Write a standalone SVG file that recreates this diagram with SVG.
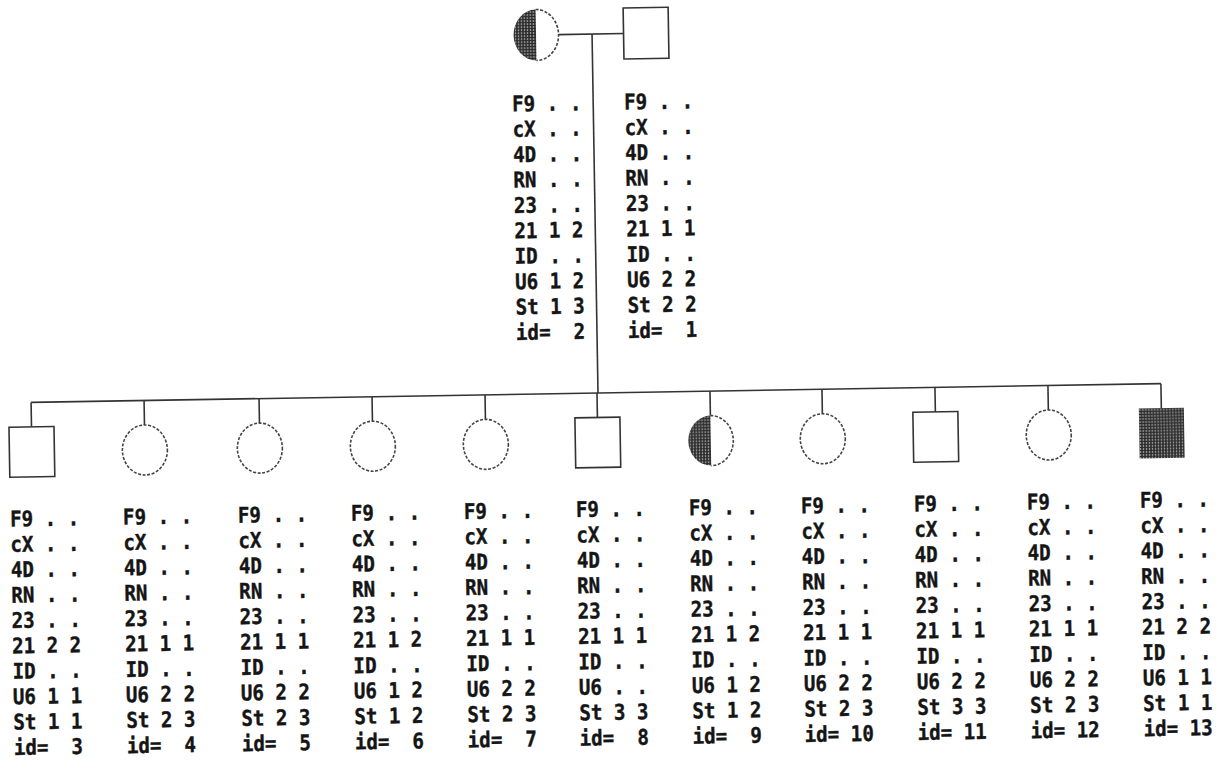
<svg xmlns="http://www.w3.org/2000/svg" width="1216" height="763" viewBox="0 0 1216 763">
<defs>
<pattern id="shade" width="3" height="3" patternUnits="userSpaceOnUse"><rect width="3" height="3" fill="#9a9a9a"/><rect width="2" height="3" fill="#3c3c3c"/><rect width="3" height="1" fill="#2a2a2a"/></pattern>
</defs>
<style>
.ln{stroke:#333;stroke-width:1.6;fill:none}
.sq{fill:#fff;stroke:#333;stroke-width:1.6}
.ci{fill:#fff;stroke:#444;stroke-width:1.6;stroke-dasharray:3 1.6}
.arc{fill:none;stroke:#444;stroke-width:1.6;stroke-dasharray:3 1.6}
.sh{fill:url(#shade)}
.t{font-family:"DejaVu Sans Mono","Liberation Mono",monospace;font-weight:bold;font-size:21.5px;fill:#151515;stroke:#151515;stroke-width:0.4;white-space:pre}
</style>
<rect width="1216" height="763" fill="#fff"/>
<g transform="rotate(-0.95 597 393)">
<g id="connectors" class="ln">
<line x1="564.5" y1="34" x2="629.5" y2="34"/>
<line x1="598" y1="34" x2="598" y2="393"/>
<line x1="31" y1="393" x2="1161" y2="393"/>
<line x1="31" y1="393" x2="31" y2="417.5"/>
<line x1="144" y1="393" x2="144" y2="417.5"/>
<line x1="259" y1="393" x2="259" y2="417.5"/>
<line x1="372" y1="393" x2="372" y2="417.5"/>
<line x1="485" y1="393" x2="485" y2="417.5"/>
<line x1="597" y1="393" x2="597" y2="417.5"/>
<line x1="710" y1="393" x2="710" y2="417.5"/>
<line x1="822" y1="393" x2="822" y2="417.5"/>
<line x1="935" y1="393" x2="935" y2="417.5"/>
<line x1="1048" y1="393" x2="1048" y2="417.5"/>
<line x1="1161" y1="393" x2="1161" y2="417.5"/>
</g>
<g id="n2">
<path class="sh" d="M542,8.5 A22.5,25.5 0 0 0 542,59.5 Z"/>
<path class="arc" d="M542,8.5 A22.5,25.5 0 0 1 542,59.5"/>
<text class="t" xml:space="preserve" transform="translate(517 110) scale(0.89 1)"><tspan x="0" y="0">F9 . .</tspan><tspan x="0" y="25.4">cX . .</tspan><tspan x="0" y="50.8">4D . .</tspan><tspan x="0" y="76.2">RN . .</tspan><tspan x="0" y="101.6">23 . .</tspan><tspan x="0" y="127">21 1 2</tspan><tspan x="0" y="152.4">ID . .</tspan><tspan x="0" y="177.8">U6 1 2</tspan><tspan x="0" y="203.2">St 1 3</tspan><tspan x="0" y="228.6">id=  2</tspan></text>
</g>
<g id="n1">
<rect class="sq" x="629.5" y="8.5" width="45" height="51"/>
<text class="t" xml:space="preserve" transform="translate(629 110) scale(0.89 1)"><tspan x="0" y="0">F9 . .</tspan><tspan x="0" y="25.4">cX . .</tspan><tspan x="0" y="50.8">4D . .</tspan><tspan x="0" y="76.2">RN . .</tspan><tspan x="0" y="101.6">23 . .</tspan><tspan x="0" y="127">21 1 1</tspan><tspan x="0" y="152.4">ID . .</tspan><tspan x="0" y="177.8">U6 2 2</tspan><tspan x="0" y="203.2">St 2 2</tspan><tspan x="0" y="228.6">id=  1</tspan></text>
</g>
<g id="n3">
<rect class="sq" x="8.5" y="417.5" width="45" height="50"/>
<text class="t" xml:space="preserve" transform="translate(8 516.7) scale(0.89 1)"><tspan x="0" y="0">F9 . .</tspan><tspan x="0" y="25.4">cX . .</tspan><tspan x="0" y="50.8">4D . .</tspan><tspan x="0" y="76.2">RN . .</tspan><tspan x="0" y="101.6">23 . .</tspan><tspan x="0" y="127">21 2 2</tspan><tspan x="0" y="152.4">ID . .</tspan><tspan x="0" y="177.8">U6 1 1</tspan><tspan x="0" y="203.2">St 1 1</tspan><tspan x="0" y="228.6">id=  3</tspan></text>
</g>
<g id="n4">
<ellipse class="ci" cx="144" cy="442.5" rx="22.5" ry="25"/>
<text class="t" xml:space="preserve" transform="translate(121 516.7) scale(0.89 1)"><tspan x="0" y="0">F9 . .</tspan><tspan x="0" y="25.4">cX . .</tspan><tspan x="0" y="50.8">4D . .</tspan><tspan x="0" y="76.2">RN . .</tspan><tspan x="0" y="101.6">23 . .</tspan><tspan x="0" y="127">21 1 1</tspan><tspan x="0" y="152.4">ID . .</tspan><tspan x="0" y="177.8">U6 2 2</tspan><tspan x="0" y="203.2">St 2 3</tspan><tspan x="0" y="228.6">id=  4</tspan></text>
</g>
<g id="n5">
<ellipse class="ci" cx="259" cy="442.5" rx="22.5" ry="25"/>
<text class="t" xml:space="preserve" transform="translate(236 516.7) scale(0.89 1)"><tspan x="0" y="0">F9 . .</tspan><tspan x="0" y="25.4">cX . .</tspan><tspan x="0" y="50.8">4D . .</tspan><tspan x="0" y="76.2">RN . .</tspan><tspan x="0" y="101.6">23 . .</tspan><tspan x="0" y="127">21 1 1</tspan><tspan x="0" y="152.4">ID . .</tspan><tspan x="0" y="177.8">U6 2 2</tspan><tspan x="0" y="203.2">St 2 3</tspan><tspan x="0" y="228.6">id=  5</tspan></text>
</g>
<g id="n6">
<ellipse class="ci" cx="372" cy="442.5" rx="22.5" ry="25"/>
<text class="t" xml:space="preserve" transform="translate(349 516.7) scale(0.89 1)"><tspan x="0" y="0">F9 . .</tspan><tspan x="0" y="25.4">cX . .</tspan><tspan x="0" y="50.8">4D . .</tspan><tspan x="0" y="76.2">RN . .</tspan><tspan x="0" y="101.6">23 . .</tspan><tspan x="0" y="127">21 1 2</tspan><tspan x="0" y="152.4">ID . .</tspan><tspan x="0" y="177.8">U6 1 2</tspan><tspan x="0" y="203.2">St 1 2</tspan><tspan x="0" y="228.6">id=  6</tspan></text>
</g>
<g id="n7">
<ellipse class="ci" cx="485" cy="442.5" rx="22.5" ry="25"/>
<text class="t" xml:space="preserve" transform="translate(462 516.7) scale(0.89 1)"><tspan x="0" y="0">F9 . .</tspan><tspan x="0" y="25.4">cX . .</tspan><tspan x="0" y="50.8">4D . .</tspan><tspan x="0" y="76.2">RN . .</tspan><tspan x="0" y="101.6">23 . .</tspan><tspan x="0" y="127">21 1 1</tspan><tspan x="0" y="152.4">ID . .</tspan><tspan x="0" y="177.8">U6 2 2</tspan><tspan x="0" y="203.2">St 2 3</tspan><tspan x="0" y="228.6">id=  7</tspan></text>
</g>
<g id="n8">
<rect class="sq" x="574.5" y="417.5" width="45" height="50"/>
<text class="t" xml:space="preserve" transform="translate(574 516.7) scale(0.89 1)"><tspan x="0" y="0">F9 . .</tspan><tspan x="0" y="25.4">cX . .</tspan><tspan x="0" y="50.8">4D . .</tspan><tspan x="0" y="76.2">RN . .</tspan><tspan x="0" y="101.6">23 . .</tspan><tspan x="0" y="127">21 1 1</tspan><tspan x="0" y="152.4">ID . .</tspan><tspan x="0" y="177.8">U6 . .</tspan><tspan x="0" y="203.2">St 3 3</tspan><tspan x="0" y="228.6">id=  8</tspan></text>
</g>
<g id="n9">
<path class="sh" d="M710,417.5 A22.5,25 0 0 0 710,467.5 Z"/>
<path class="arc" d="M710,417.5 A22.5,25 0 0 1 710,467.5"/>
<text class="t" xml:space="preserve" transform="translate(687 516.7) scale(0.89 1)"><tspan x="0" y="0">F9 . .</tspan><tspan x="0" y="25.4">cX . .</tspan><tspan x="0" y="50.8">4D . .</tspan><tspan x="0" y="76.2">RN . .</tspan><tspan x="0" y="101.6">23 . .</tspan><tspan x="0" y="127">21 1 2</tspan><tspan x="0" y="152.4">ID . .</tspan><tspan x="0" y="177.8">U6 1 2</tspan><tspan x="0" y="203.2">St 1 2</tspan><tspan x="0" y="228.6">id=  9</tspan></text>
</g>
<g id="n10">
<ellipse class="ci" cx="822" cy="442.5" rx="22.5" ry="25"/>
<text class="t" xml:space="preserve" transform="translate(799 516.7) scale(0.89 1)"><tspan x="0" y="0">F9 . .</tspan><tspan x="0" y="25.4">cX . .</tspan><tspan x="0" y="50.8">4D . .</tspan><tspan x="0" y="76.2">RN . .</tspan><tspan x="0" y="101.6">23 . .</tspan><tspan x="0" y="127">21 1 1</tspan><tspan x="0" y="152.4">ID . .</tspan><tspan x="0" y="177.8">U6 2 2</tspan><tspan x="0" y="203.2">St 2 3</tspan><tspan x="0" y="228.6">id= 10</tspan></text>
</g>
<g id="n11">
<rect class="sq" x="912.5" y="417.5" width="45" height="50"/>
<text class="t" xml:space="preserve" transform="translate(912 516.7) scale(0.89 1)"><tspan x="0" y="0">F9 . .</tspan><tspan x="0" y="25.4">cX . .</tspan><tspan x="0" y="50.8">4D . .</tspan><tspan x="0" y="76.2">RN . .</tspan><tspan x="0" y="101.6">23 . .</tspan><tspan x="0" y="127">21 1 1</tspan><tspan x="0" y="152.4">ID . .</tspan><tspan x="0" y="177.8">U6 2 2</tspan><tspan x="0" y="203.2">St 3 3</tspan><tspan x="0" y="228.6">id= 11</tspan></text>
</g>
<g id="n12">
<ellipse class="ci" cx="1048" cy="442.5" rx="22.5" ry="25"/>
<text class="t" xml:space="preserve" transform="translate(1025 516.7) scale(0.89 1)"><tspan x="0" y="0">F9 . .</tspan><tspan x="0" y="25.4">cX . .</tspan><tspan x="0" y="50.8">4D . .</tspan><tspan x="0" y="76.2">RN . .</tspan><tspan x="0" y="101.6">23 . .</tspan><tspan x="0" y="127">21 1 1</tspan><tspan x="0" y="152.4">ID . .</tspan><tspan x="0" y="177.8">U6 2 2</tspan><tspan x="0" y="203.2">St 2 3</tspan><tspan x="0" y="228.6">id= 12</tspan></text>
</g>
<g id="n13">
<rect class="sh" x="1138.5" y="417.5" width="45" height="50"/>
<text class="t" xml:space="preserve" transform="translate(1138 516.7) scale(0.89 1)"><tspan x="0" y="0">F9 . .</tspan><tspan x="0" y="25.4">cX . .</tspan><tspan x="0" y="50.8">4D . .</tspan><tspan x="0" y="76.2">RN . .</tspan><tspan x="0" y="101.6">23 . .</tspan><tspan x="0" y="127">21 2 2</tspan><tspan x="0" y="152.4">ID . .</tspan><tspan x="0" y="177.8">U6 1 1</tspan><tspan x="0" y="203.2">St 1 1</tspan><tspan x="0" y="228.6">id= 13</tspan></text>
</g>
</g>
</svg>
